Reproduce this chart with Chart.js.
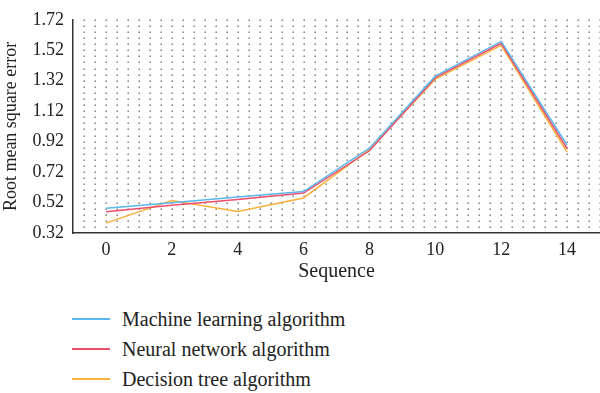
<!DOCTYPE html>
<html lang="en">
<head>
    <meta charset="UTF-8">
    <title>Root mean square error by sequence</title>
    <script src="https://cdn.jsdelivr.net/npm/chart.js"></script>
    <style>
        body { margin: 0; background: #fff; width: 600px; height: 393px; overflow: hidden; }
        .chart-wrapper { position: relative; width: 600px; height: 288px; }
        .legenda { margin: 16px 0 0 0; padding: 0; list-style: none; font-family: "Liberation Serif", serif; font-size: 20px; color: #222; }
        .legenda li { display: flex; align-items: center; height: 30px; }
        .legenda .linha { display: inline-block; width: 38px; height: 1.5px; margin-left: 72px; margin-right: 12px; }
    </style>
</head>
<body>
    <div class="chart-wrapper">
        <canvas id="rmseChart"></canvas>
    </div>
    <ul class="legenda" id="legenda"></ul>

<script>
    const sequencia = [0, 2, 4, 6, 8, 10, 12, 14];
    const machineLearning = [0.483, 0.518, 0.556, 0.592, 0.877, 1.350, 1.578, 0.898];
    const neuralNetwork = [0.459, 0.502, 0.540, 0.582, 0.860, 1.340, 1.566, 0.875];
    const decisionTree = [0.385, 0.533, 0.461, 0.550, 0.868, 1.330, 1.552, 0.852];
    const yTicks = [0.32, 0.52, 0.72, 0.92, 1.12, 1.32, 1.52, 1.72];

    const series = [
        { label: 'Machine learning algorithm', data: machineLearning, color: '#5ab7ee' },
        { label: 'Neural network algorithm', data: neuralNetwork, color: '#ee4d6c' },
        { label: 'Decision tree algorithm', data: decisionTree, color: '#fbb13c' }
    ];

    // grade pontilhada desenhada a partir das escalas
    const gradePontilhada = {
        id: 'gradePontilhada',
        beforeDatasetsDraw(chart) {
            const { ctx, scales: { x, y } } = chart;
            ctx.save();
            ctx.fillStyle = '#6a6a6a';
            for (let i = 1; i <= 48; i++) {
                const px = x.getPixelForValue(-1 + i / 3);
                for (let j = 1; j <= 35; j++) {
                    const py = y.getPixelForValue(0.32 + j * 0.04);
                    ctx.fillRect(Math.round(px) - 0.5, Math.round(py) - 0.5, 1.4, 1.4);
                }
            }
            ctx.restore();
        }
    };

    const fonteTicks = { family: '"Liberation Serif", serif', size: 18 };
    const fonteTitulo = { family: '"Liberation Serif", serif', size: 20 };

    const rmseChart = new Chart(document.getElementById('rmseChart').getContext('2d'), {
        type: 'line',
        data: {
            datasets: series.map(s => ({
                label: s.label,
                data: s.data.map((v, i) => ({ x: sequencia[i], y: v })),
                borderColor: s.color,
                backgroundColor: s.color,
                borderWidth: 1.5,
                pointRadius: 0,
                tension: 0
            }))
        },
        options: {
            responsive: true,
            maintainAspectRatio: false,
            animation: false,
            layout: { padding: { top: 12, right: 0, left: 0, bottom: 0 } },
            scales: {
                x: {
                    type: 'linear',
                    min: -1,
                    max: 15,
                    afterBuildTicks: scale => { scale.ticks = sequencia.map(v => ({ value: v })); },
                    afterFit: scale => { scale.height = 55; },
                    grid: { display: false, drawTicks: false },
                    border: { display: true, color: '#333', width: 1.5 },
                    ticks: { color: '#222', font: fonteTicks, padding: 6 },
                    title: { display: true, text: 'Sequence', color: '#222', font: fonteTitulo, padding: { top: 0, bottom: 4 } }
                },
                y: {
                    min: 0.32,
                    max: 1.72,
                    afterBuildTicks: scale => { scale.ticks = yTicks.map(v => ({ value: v })); },
                    afterFit: scale => { scale.width = 73; },
                    grid: { display: false, drawTicks: false },
                    border: { display: true, color: '#333', width: 1.5 },
                    ticks: { color: '#222', font: fonteTicks, padding: 9, callback: v => v.toFixed(2) },
                    title: { display: true, text: 'Root mean square error', color: '#222', font: fonteTicks, padding: 0 }
                }
            },
            plugins: {
                legend: { display: false },
                tooltip: { enabled: false }
            }
        },
        plugins: [gradePontilhada]
    });

    const legenda = document.getElementById('legenda');
    rmseChart.data.datasets.forEach(ds => {
        legenda.innerHTML += `<li><span class="linha" style="background-color:${ds.borderColor}"></span>${ds.label}</li>`;
    });
</script>
</body>
</html>
